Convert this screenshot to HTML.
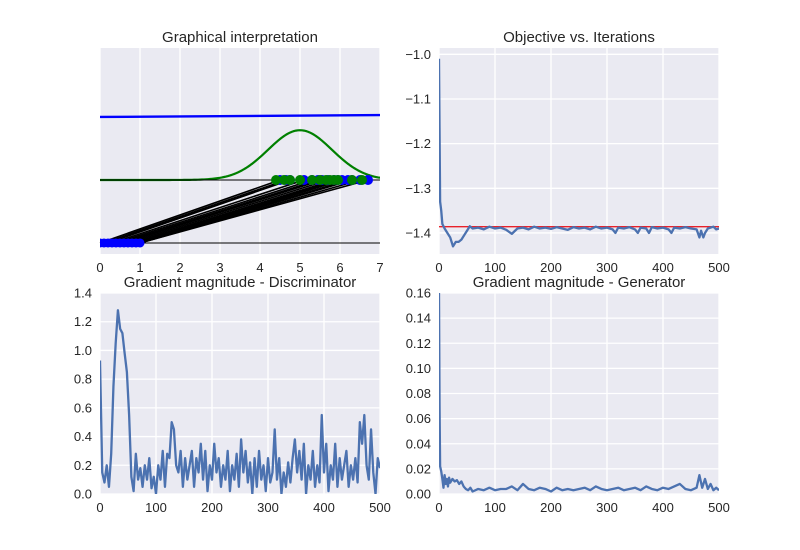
<!DOCTYPE html>
<html><head><meta charset="utf-8">
<style>
body{margin:0;background:#fff;}
svg{display:block;font-family:"Liberation Sans",Arial,sans-serif;}
</style></head>
<body>
<svg id="fig" width="800" height="550" viewBox="0 0 800 550"></svg>
<script>
// ---- data ----
const lowerX = [0,0.1,0.2,0.3,0.4,0.5,0.6,0.7,0.8,0.9,1.0];
const upperBlueX = [4.65,4.75,5.3,5.45,5.55,5.7,5.85,5.95,6.05,6.3,6.5,6.7,4.5,5.1,6.2];
const upperGreenX = [4.4,4.6,4.75,5.0,5.3,5.5,5.65,5.75,5.85,5.95,6.3,6.55];
const gaussMu = [5.0];
const gaussSigma = [0.8];
const gaussAmp = [0.79];
const lowerLevel = [0];
const upperLevel = [1];
const blueLineY = [2.0, 2.03];
const graphXTicks = [0,1,2,3,4,5,6,7];

const objIters = [0,2,4,6,8,10,15,20,25,30,35,40,45,50,55,60,70,80,90,100,110,120,130,140,150,160,170,180,190,200,210,220,230,240,250,260,270,280,290,300,310,315,320,330,340,350,355,360,370,375,380,390,400,410,415,420,430,440,450,460,465,468,472,475,480,490,495,500];
const objValues = [-1.01,-1.33,-1.35,-1.38,-1.385,-1.39,-1.40,-1.41,-1.43,-1.42,-1.42,-1.415,-1.405,-1.395,-1.385,-1.39,-1.388,-1.392,-1.386,-1.39,-1.388,-1.393,-1.402,-1.39,-1.388,-1.392,-1.386,-1.39,-1.388,-1.391,-1.387,-1.39,-1.393,-1.387,-1.39,-1.388,-1.392,-1.386,-1.39,-1.388,-1.392,-1.40,-1.388,-1.39,-1.387,-1.392,-1.40,-1.388,-1.39,-1.40,-1.387,-1.39,-1.388,-1.392,-1.40,-1.388,-1.39,-1.387,-1.39,-1.392,-1.41,-1.395,-1.41,-1.40,-1.39,-1.386,-1.392,-1.39];
const objOptimal = [-1.386];
const objYTicks = [-1.4,-1.3,-1.2,-1.1,-1.0];
const iterTicks = [0,100,200,300,400,500];

const discGrad = [.93,.15,.08,.2,.05,.28,.75,1.05,1.28,1.15,1.12,.98,.85,.55,.12,.02,.28,.1,.18,.05,.2,.1,.25,.04,.12,0,.2,.1,.3,.05,.28,.25,.5,.45,.2,.15,.3,.05,.25,.1,.2,.3,.05,.25,.15,.35,.1,.3,.02,.2,.1,.35,.15,.25,.05,.2,.1,.3,.02,.2,.1,.28,.05,.38,.15,.3,.08,.22,0,.25,.05,.3,.1,.2,.02,.25,.08,.15,.45,.1,.25,0,.15,.05,.22,.08,.25,.38,.15,.3,.1,.35,0,.2,.1,.3,.05,.2,.08,.55,.15,.35,.02,.2,.1,.35,.05,.25,.1,.2,.3,.05,.2,.1,.25,.08,.5,.35,.55,.2,.1,.45,.15,0,.25,.18];
const discYTicks = [0,0.2,0.4,0.6,0.8,1.0,1.2,1.4];

const genIters = [0,1,2,4,6,8,10,12,14,16,18,20,24,28,32,36,40,44,48,52,56,60,70,80,90,100,110,120,130,140,150,160,170,180,190,200,210,220,230,240,250,260,270,280,290,300,310,320,330,340,350,360,370,380,390,400,410,420,430,440,450,460,465,470,475,480,485,490,495,500];
const genGrad = [.16,.07,.022,.018,.012,.005,.015,.008,.012,.006,.013,.009,.012,.01,.011,.008,.01,.006,.004,.003,.005,.002,.004,.003,.005,.003,.004,.004,.006,.003,.008,.004,.003,.005,.004,.002,.005,.003,.004,.003,.004,.005,.003,.006,.004,.003,.004,.005,.003,.004,.005,.003,.006,.004,.003,.005,.004,.006,.008,.004,.003,.005,.015,.005,.012,.004,.008,.003,.005,.003];
const genYTicks = [0,0.02,0.04,0.06,0.08,0.10,0.12,0.14,0.16];

// ---- helpers ----
const NS = "http://www.w3.org/2000/svg";
const svg = document.getElementById('fig');
function el(tag, attrs, parent){
  const e = document.createElementNS(NS, tag);
  for (const k in attrs) e.setAttribute(k, attrs[k]);
  (parent||svg).appendChild(e);
  return e;
}
function lin(d0,d1,r0,r1){ return v => r0 + (v-d0)/(d1-d0)*(r1-r0); }

function makeAxes(name, x0,y0,x1,y1, xd, yd, title){
  const g = el('g',{});
  
  
  const bg = el('rect',{x:x0,y:y0,width:x1-x0,height:y1-y0,fill:'#EAEAF2'},g);
  
  
  const t = el('text',{x:(x0+x1)/2,y:y0-6,'text-anchor':'middle','font-size':15,fill:'#262626'},g);
  t.textContent = title;
  
  
  return {g, sx:lin(xd[0],xd[1],x0,x1), sy:lin(yd[0],yd[1],y1,y0), x0,y0,x1,y1};
}
function gridX(ax, ticks, fmt){
  ticks.forEach(v=>{
    const x = ax.sx(v);
    el('line',{x1:x,x2:x,y1:ax.y0,y2:ax.y1,stroke:'#fff','stroke-width':1.3},ax.g);
    const t = el('text',{x:x,y:ax.y1+18,'text-anchor':'middle','font-size':13,fill:'#262626'},ax.g);
    t.textContent = fmt(v);
    
    
  });
}
function gridY(ax, ticks, fmt){
  ticks.forEach(v=>{
    const y = ax.sy(v);
    el('line',{x1:ax.x0,x2:ax.x1,y1:y,y2:y,stroke:'#fff','stroke-width':1.3},ax.g);
    const t = el('text',{x:ax.x0-8,y:y+4.5,'text-anchor':'end','font-size':13,fill:'#262626'},ax.g);
    t.textContent = fmt(v);
    
    
  });
}
function clip(ax, id){
  const c = el('clipPath',{id:id},svg);
  el('rect',{x:ax.x0,y:ax.y0,width:ax.x1-ax.x0,height:ax.y1-ax.y0},c);
  return 'url(#'+id+')';
}
function polyline(ax, xs, ys, color, w, name, cp){
  const pts = xs.map((x,i)=>ax.sx(x).toFixed(2)+','+ax.sy(ys[i]).toFixed(2)).join(' ');
  const p = el('polyline',{points:pts,fill:'none',stroke:color,'stroke-width':w,'stroke-linejoin':'round','clip-path':cp},ax.g);
  
  
  return p;
}

// ---- Graphical interpretation ----
const a1 = makeAxes('graphical-interpretation-axes',100,48,380,254,[0,7],[-0.175,3.095],'Graphical interpretation');
gridX(a1, graphXTicks, v=>String(v));
const c1 = clip(a1,'c1');
polyline(a1,[0,7],blueLineY,'#0000ff',2.4,'blue-decision-line',c1);
const gx=[], gy=[];
for(let i=0;i<=140;i++){ const x=i*0.05; gx.push(x); gy.push(upperLevel[0]+gaussAmp[0]*Math.exp(-Math.pow(x-gaussMu[0],2)/(2*gaussSigma[0]*gaussSigma[0]))); }
polyline(a1,gx,gy,'#008000',2.2,'green-gaussian-curve',c1);
polyline(a1,[0,7],[upperLevel[0],upperLevel[0]],'#000',1,'upper-baseline',c1);
polyline(a1,[0,7],[lowerLevel[0],lowerLevel[0]],'#000',1,'lower-baseline',c1);
const sortedUp = upperBlueX.slice().sort((a,b)=>a-b);
sortedUp.forEach((ux,i)=>{
  const lx = lowerX[Math.min(i, lowerX.length-1)];
  const l = el('line',{x1:a1.sx(lx),y1:a1.sy(lowerLevel[0]),x2:a1.sx(ux),y2:a1.sy(upperLevel[0]),stroke:'#000','stroke-width':1.6},a1.g);
  
  
});
lowerX.forEach(x=>{
  const c = el('circle',{cx:a1.sx(x),cy:a1.sy(lowerLevel[0]),r:4.5,fill:'#0000ff','clip-path':c1},a1.g);
  
  
});
upperBlueX.forEach(x=>{
  const c = el('circle',{cx:a1.sx(x),cy:a1.sy(upperLevel[0]),r:5,fill:'#0000ff'},a1.g);
  
  
});
upperGreenX.forEach(x=>{
  const c = el('circle',{cx:a1.sx(x),cy:a1.sy(upperLevel[0]),r:5,fill:'#008000'},a1.g);
  
  
});

// ---- Objective ----
const a2 = makeAxes('objective-axes',439,48,719,254,[0,500],[-1.4471,-0.9859],'Objective vs. Iterations');
gridX(a2, iterTicks, v=>String(v));
gridY(a2, objYTicks, v=>v.toFixed(1).replace('-','\u2212'));
const c2 = clip(a2,'c2');
polyline(a2,[0,500],[objOptimal[0],objOptimal[0]],'#e8212a',1.3,'optimal-objective-line',c2);
polyline(a2,objIters,objValues,'#4C72B0',2.3,'objective-line',c2);

// ---- Discriminator gradient ----
const a3 = makeAxes('discriminator-gradient-axes',100,293,380,494,[0,500],[0,1.4],'Gradient magnitude - Discriminator');
gridX(a3, iterTicks, v=>String(v));
gridY(a3, discYTicks, v=>v.toFixed(1));
const c3 = clip(a3,'c3');
polyline(a3,discGrad.map((v,i)=>i*4),discGrad,'#4C72B0',2.3,'discriminator-gradient-line',c3);

// ---- Generator gradient ----
const a4 = makeAxes('generator-gradient-axes',439,293,719,494,[0,500],[0,0.16],'Gradient magnitude - Generator');
gridX(a4, iterTicks, v=>String(v));
gridY(a4, genYTicks, v=>v.toFixed(2));
const c4 = clip(a4,'c4');
polyline(a4,genIters,genGrad,'#4C72B0',2.3,'generator-gradient-line',c4);
</script>
</body></html>
